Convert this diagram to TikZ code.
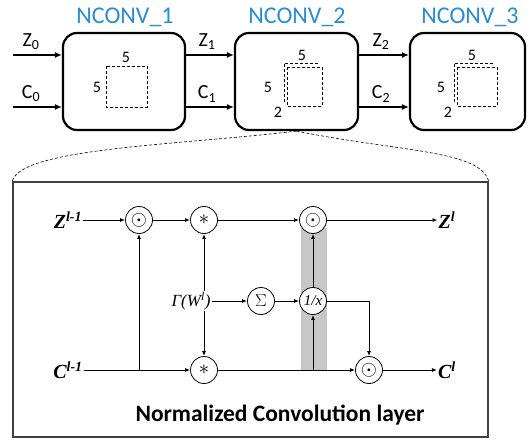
\documentclass[tikz,border=0pt]{standalone}
\usepackage{fontspec}
\setmainfont{Liberation Serif}
\newfontfamily\carl{Carlito}
\usetikzlibrary{arrows.meta}
\definecolor{nblue}{RGB}{41,141,212}
\begin{document}
\begin{tikzpicture}[x=1pt,y=-1pt,
 blk/.style={draw, line width=2.2pt, rounded corners=14pt},
 bigarr/.style={line width=1.8pt, -{Latex[length=7pt,width=6pt]}},
 arr/.style={line width=1pt, -{Latex[length=5pt,width=4pt]}},
 op/.style={circle, draw, line width=0.8pt, fill=white, minimum size=27pt, inner sep=0pt, font=\fontsize{20}{20}\selectfont},
 ttl/.style={font=\carl\fontsize{24}{24}\selectfont, text=nblue},
 io/.style={font=\carl\fontsize{20}{20}\selectfont},
 mlab/.style={font=\bfseries\itshape\fontsize{20}{20}\selectfont, inner sep=1pt},
 sq/.style={line width=1pt, dash pattern=on 3pt off 2pt},
 num/.style={font=\carl\fontsize{16}{16}\selectfont, inner sep=0pt}]
\useasboundingbox (0,0) rectangle (530,439);
% top row
\node[blk, minimum width=122pt, minimum height=97pt] (b1) at (124,81.5) {};
\node[blk, minimum width=123pt, minimum height=97pt] (b2) at (296.5,81.5) {};
\node[blk, minimum width=115pt, minimum height=97pt] (b3) at (467.5,81.5) {};
\node[ttl] (n1) at (125,17) {NCONV\_1};
\node[ttl] (n2) at (297,17) {NCONV\_2};
\node[ttl] (n3) at (470,17) {NCONV\_3};
\coordinate (z0) at (13,55);
\coordinate (c0) at (13,107);
\draw[bigarr] (z0) -- (z0 -| b1.west);
\draw[bigarr] (c0) -- (c0 -| b1.west);
\draw[bigarr] (b1.east |- z0) -- (b2.west |- z0);
\draw[bigarr] (b1.east |- c0) -- (b2.west |- c0);
\draw[bigarr] (b2.east |- z0) -- (b3.west |- z0);
\draw[bigarr] (b2.east |- c0) -- (b3.west |- c0);
\node[io] (lz0) at (31,42) {Z\textsubscript{0}};
\node[io] (lc0) at (31,94) {C\textsubscript{0}};
\node[io] (lz1) at (207,42) {Z\textsubscript{1}};
\node[io] (lc1) at (207,94) {C\textsubscript{1}};
\node[io] (lz2) at (381,42) {Z\textsubscript{2}};
\node[io] (lc2) at (381,94) {C\textsubscript{2}};
% kernels
\draw[sq] (106,66) rectangle (147,107);
\node[num] (k1a) at (126,57) {5};
\node[num] (k1b) at (97,87) {5};
\draw[sq] (284,102) -- (284,63) -- (318,63);
\draw[sq] (287,67) rectangle (322,106);
\node[num] (k2a) at (302,55) {5};
\node[num] (k2b) at (268,87) {5};
\node[num] (k2c) at (278,112) {2};
\draw[sq] (454,102) -- (454,63) -- (493,63);
\draw[sq] (457,67) rectangle (497,106);
\node[num] (k3a) at (472,55) {5};
\node[num] (k3b) at (441,87) {5};
\node[num] (k3c) at (448,112) {2};
% layer box
\node[draw=black!75, line width=1.4pt, minimum width=475pt, minimum height=255pt, inner sep=0pt] (lay) at (250.5,309.5) {};
\draw[densely dashed, line width=0.6pt] (b2.south) .. controls (180,145) and (20,148) .. (lay.north west);
\draw[densely dashed, line width=0.6pt] (b2.south) .. controls (400,152) and (480,150) .. (lay.north east);
\fill[black!22] (301,228) rectangle (327,370);
% inner nodes
\node[mlab] (zin) at (68,220) {Z\textsuperscript{l-1}};
\node[op] (o1) at (139,220) {$\odot$};
\node[op] (s1) at (204,220) {$*$};
\node[op] (o2) at (313,220) {$\odot$};
\node[mlab] (zout) at (447,220) {Z\textsuperscript{l}};
\node[mlab] (cin) at (68,370) {C\textsuperscript{l-1}};
\node[op] (s2) at (204,370) {$*$};
\node[op] (o3) at (369,370) {$\odot$};
\node[mlab] (cout) at (447,370) {C\textsuperscript{l}};
\node[mlab, font=\itshape\fontsize{17}{17}\selectfont] (gam) at (191,301) {Γ(W\textsuperscript{l})};
\node[op, font=\fontsize{17}{17}\selectfont] (sig) at (261,301) {$\Sigma$};
\node[op, font=\itshape\fontsize{15}{15}\selectfont] (inv) at (313,301) {1/x};
\coordinate (j1) at (o1 |- cin);
\coordinate (j2) at (inv |- cin);
\draw[arr] (zin) -- (o1);
\draw[arr] (o1) -- (s1);
\draw[arr] (s1) -- (o2);
\draw[arr] (o2) -- (zout);
\draw[arr] (cin) -- (s2);
\draw[arr] (s2) -- (o3);
\draw[arr] (o3) -- (cout);
\draw[arr] (j1) -- (o1);
\draw[arr] (s1 |- gam.north) -- (s1);
\draw[arr] (s1 |- gam.south) -- (s2);
\draw[arr] (gam) -- (sig);
\draw[arr] (sig) -- (inv);
\draw[arr] (j2) -- (inv);
\draw[arr] (inv) -- (o2);
\draw[arr] (inv.east) -| (o3.north);
\node[font=\carl\bfseries\fontsize{23.5}{23.5}\selectfont] (cap) at (280,415) {Normalized Convolution layer};
\end{tikzpicture}
\end{document}
